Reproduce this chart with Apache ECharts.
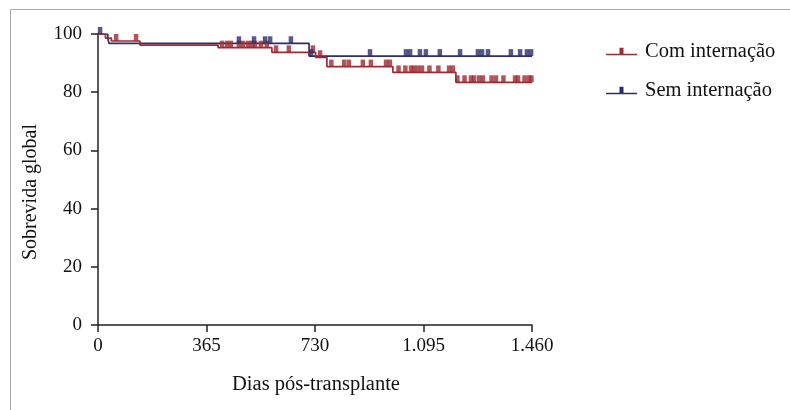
<!DOCTYPE html>
<html>
<head>
<meta charset="utf-8">
<script src="https://cdn.jsdelivr.net/npm/echarts@6/dist/echarts.min.js"></script>
<style>html,body{margin:0;padding:0;background:#fff}#c{width:790px;height:410px}</style>
</head>
<body>
<div id="c"></div>
<script>
// Kaplan-Meier step points (day, survival %)
const comDays = [0, 25, 45, 141, 404, 585, 732, 770, 992, 1204, 1460];
const comSurv = [100, 98.6, 97.6, 96.2, 95.3, 93.7, 92.0, 88.8, 86.8, 83.4, 83.4];
const semDays = [0, 33, 37, 710, 1460];
const semSurv = [100, 98.5, 96.8, 92.4, 92.4];
// censored observations (days)
const comCensor = [61, 128, 417, 434, 447, 474, 488, 505, 518, 528, 548, 568, 599, 642, 723, 747,
  785, 828, 844, 891, 918, 969, 982, 1011, 1034, 1053, 1063, 1076, 1090, 1115, 1145, 1181, 1194,
  1209, 1233, 1255, 1265, 1282, 1295, 1324, 1339, 1364, 1403, 1413, 1435, 1450, 1458];
const semCensor = [7, 474, 525, 562, 579, 649, 717, 915, 1036, 1050, 1083, 1103, 1150, 1218, 1278,
  1292, 1312, 1389, 1420, 1443, 1457];
const xTickLabels = ['0', '365', '730', '1.095', '1.460'];
const yTickLabels = ['0', '20', '40', '60', '80', '100'];
const seriesNames = ['Com internação', 'Sem internação'];

const RED = '#9e2a31', BLUE = '#2c2e6b';
const FONT = 'Liberation Serif';

function stepValue(days, surv, d) {
  let v = surv[0];
  for (let i = 0; i < days.length; i++) if (days[i] <= d) v = surv[i];
  return v;
}
const comLine = comDays.map((d, i) => [d, comSurv[i]]);
const semLine = semDays.map((d, i) => [d, semSurv[i]]);
const comMarks = comCensor.map(d => [d, stepValue(comDays, comSurv, d)]);
const semMarks = semCensor.map(d => [d, stepValue(semDays, semSurv, d)]);

const iconPath = 'path://M0,6h31v1.5H0z M13.5,0h4v6h-4z';

const chart = echarts.init(document.getElementById('c'), null, {renderer: 'canvas'});
chart.setOption({
  animation: false,
  backgroundColor: '#fff',
  grid: {left: 98, right: 258, top: 34, bottom: 85, containLabel: false},
  xAxis: {
    type: 'value', min: 0, max: 1460, interval: 365,
    axisLine: {show: true, lineStyle: {color: '#222', width: 1.5}},
    axisTick: {show: true, length: 7, lineStyle: {color: '#222', width: 1.5}},
    axisLabel: {margin: 12, color: '#111', fontFamily: FONT, fontSize: 19,
      formatter: v => xTickLabels[Math.round(v / 365)]},
    splitLine: {show: false}
  },
  yAxis: {
    type: 'value', min: 0, max: 100, interval: 20,
    axisLine: {show: true, lineStyle: {color: '#222', width: 1.5}},
    axisTick: {show: true, length: 7, lineStyle: {color: '#222', width: 1.5}},
    axisLabel: {margin: 16, color: '#111', fontFamily: FONT, fontSize: 19,
      formatter: v => yTickLabels[Math.round(v / 20)]},
    splitLine: {show: false}
  },
  legend: {
    orient: 'vertical', left: 601, top: 36, itemGap: 18,
    itemWidth: 31, itemHeight: 8,
    textStyle: {fontFamily: FONT, fontSize: 20.5, color: '#111', padding: [6, 0, 0, 3]},
    data: [
      {name: seriesNames[0], icon: iconPath, itemStyle: {color: RED}},
      {name: seriesNames[1], icon: iconPath, itemStyle: {color: BLUE}}
    ]
  },
  graphic: [
    {type: 'rect', shape: {x: 10.5, y: 9.5, width: 800, height: 420},
      style: {fill: 'none', stroke: '#a8a8a8', lineWidth: 1}, silent: true, z: -1},
    {type: 'text', x: 31, y: 192, rotation: Math.PI / 2,
      style: {text: 'Sobrevida global', fontFamily: FONT, fontSize: 20, fill: '#111',
        align: 'center', verticalAlign: 'middle'}},
    {type: 'text', x: 316, y: 385,
      style: {text: 'Dias pós-transplante', fontFamily: FONT, fontSize: 20.5, fill: '#111',
        align: 'center', verticalAlign: 'middle'}}
  ],
  series: [
    {name: seriesNames[0], type: 'line', step: 'end', data: comLine, symbol: 'none',
      lineStyle: {color: RED, width: 1.7}, itemStyle: {color: RED}, z: 3},
    {name: seriesNames[1], type: 'line', step: 'end', data: semLine, symbol: 'none',
      lineStyle: {color: BLUE, width: 1.7}, itemStyle: {color: BLUE}, z: 2},
    {name: seriesNames[0], type: 'scatter', data: comMarks, symbol: 'rect',
      symbolSize: [4.5, 7], symbolOffset: [0, -3.5], itemStyle: {color: RED}, z: 4},
    {name: seriesNames[1], type: 'scatter', data: semMarks, symbol: 'rect',
      symbolSize: [4.5, 7], symbolOffset: [0, -3.5], itemStyle: {color: BLUE}, z: 4}
  ]
});
</script>
</body>
</html>
